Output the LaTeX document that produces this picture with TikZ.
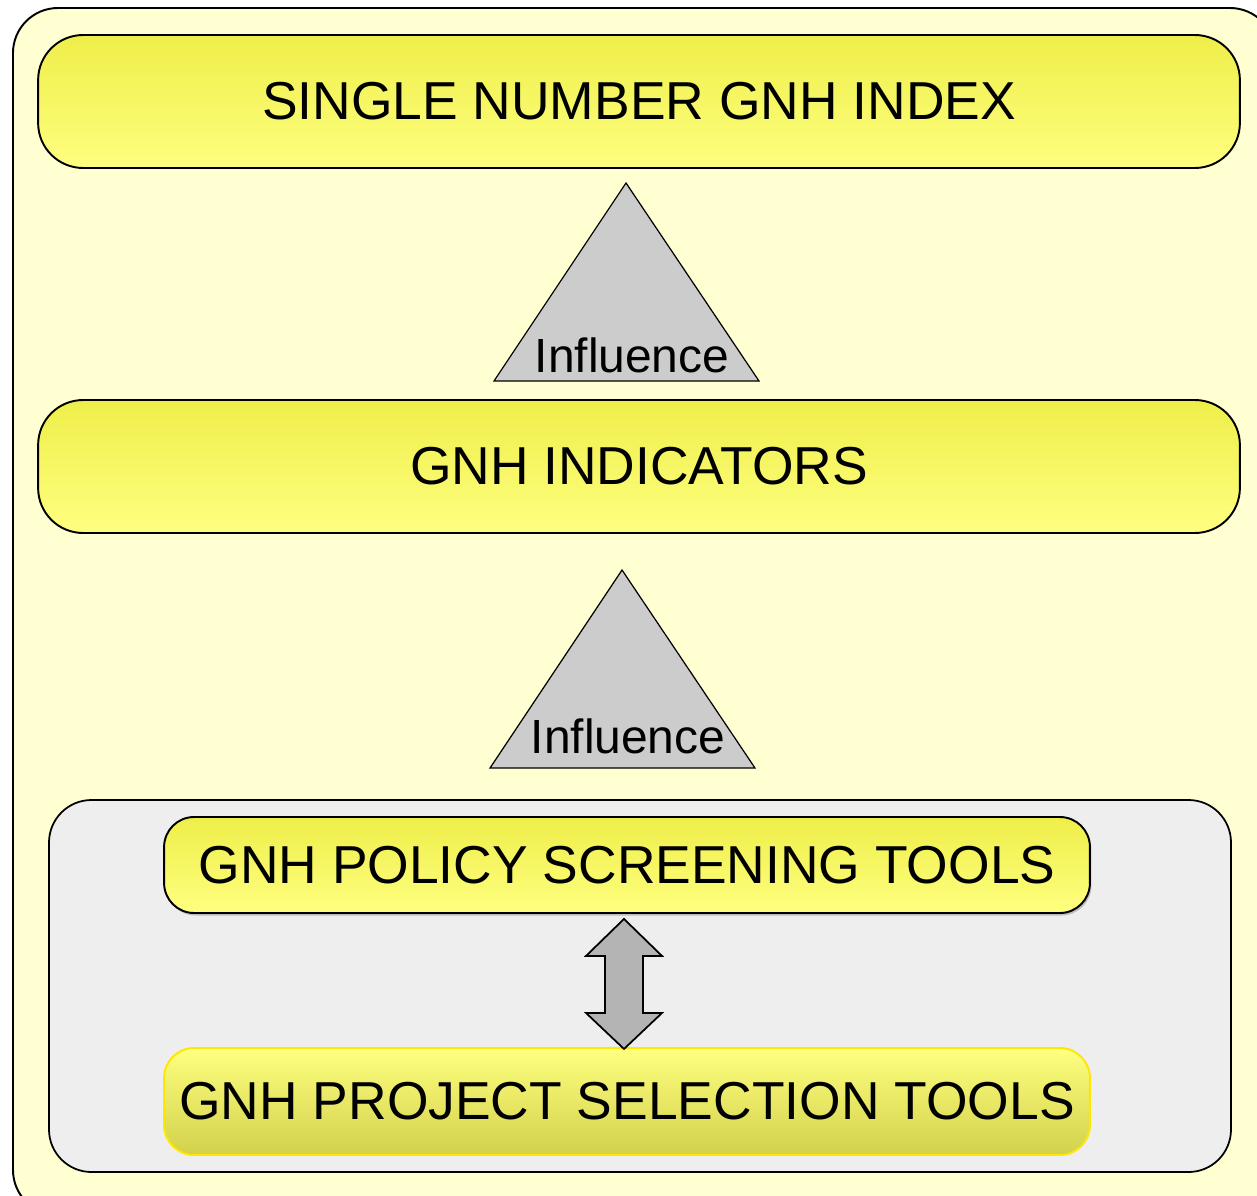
\documentclass[tikz,border=0pt]{standalone}
\usepackage{fontspec}
\setmainfont{Liberation Sans}
\usepackage{xcolor}
\usetikzlibrary{shadows}
\definecolor{paleyellow}{HTML}{FFFFD2}
\definecolor{boxyellow}{HTML}{FFFF5C}
\definecolor{boxrim}{HTML}{EEEE4A}
\definecolor{boxlight}{HTML}{FFFF80}
\definecolor{lightgrey}{HTML}{EEEEEE}
\definecolor{trigrey}{HTML}{CCCCCC}
\definecolor{arrowgrey}{HTML}{B4B4B4}
\tikzset{x=0.02cm, y=-0.02cm,
 gnhbox/.style={draw=black, line width=1.1pt, rounded corners=0.9cm,
   top color=boxrim, middle color=boxyellow, bottom color=boxlight,
   minimum width=24.04cm, minimum height=2.66cm, font=\fontsize{30.4}{36}\selectfont},
 toolbox/.style={gnhbox, rounded corners=0.6cm, minimum width=18.52cm},
 tri/.style={draw=black, line width=0.7pt, fill=trigrey, line join=miter},
 inftext/.style={font=\fontsize{27.3}{32}\selectfont, inner sep=0pt},
 dblarrow/.style={draw=black, line width=1pt, fill=arrowgrey, line join=miter},
 }

\begin{document}
\begin{tikzpicture}
    \useasboundingbox (0,0) rectangle (1257,1196);
    % background panels
    \draw[line width=1.1pt, fill=paleyellow, rounded corners=0.9cm] (13,8) rectangle (1275,1215);
    \draw[line width=1pt, fill=lightgrey, rounded corners=0.85cm] (49,800) rectangle (1231,1172);

    \node[gnhbox] (index) at (639,101.5) {SINGLE NUMBER GNH INDEX};
    \node[gnhbox] (indic) at (639,466.5) {GNH INDICATORS};

    \foreach \x/\y/\t/\n in {626/183/172/infA, 622/570/166/infB} {
        \draw[tri] (\x,\y) -- ++(133,198) -- ++(-265,0) -- cycle;
        \node[inftext] (\n) at (\x+6,\y+\t) {Influence};
    }

    \node[toolbox, minimum height=1.92cm, drop shadow={shadow xshift=0.03cm, shadow yshift=-0.05cm, opacity=0.45}] (policy) at (627,865) {GNH POLICY SCREENING TOOLS};
    \node[toolbox, draw=yellow!90!orange, minimum height=2.14cm,
        top color=boxlight, middle color=boxyellow, bottom color=boxyellow!82!black] (project) at (627,1101.5) {GNH PROJECT SELECTION TOOLS};

    % two-way arrow between the tool boxes
    \draw[dblarrow] ([xshift=-0.06cm, yshift=-0.1cm]policy.south) -- ++(38,37) -- ++(-19,0) -- ++(0,57)
        -- ++(19,0) -- ++(-38,36) -- ++(-38,-36) -- ++(19,0) -- ++(0,-57) -- ++(-19,0) -- cycle;
\end{tikzpicture}
\end{document}
